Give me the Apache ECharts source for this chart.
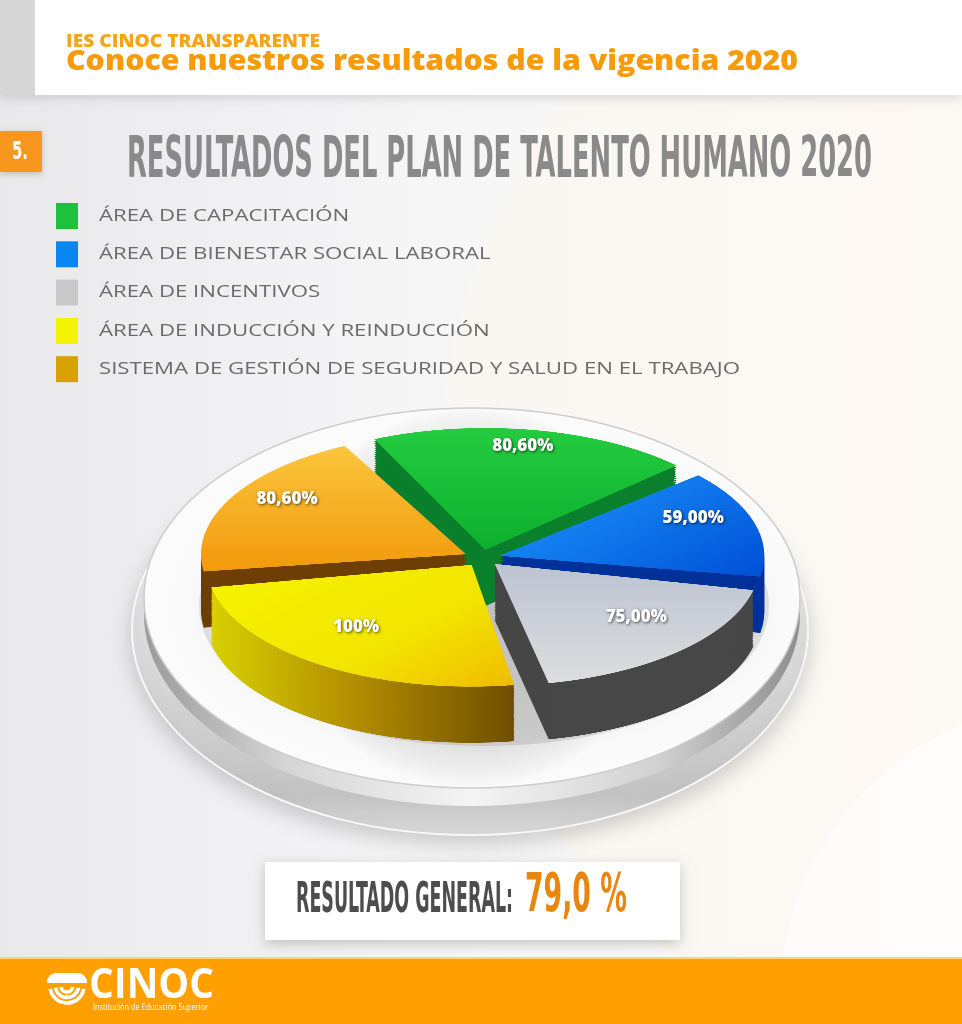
<!DOCTYPE html>
<html><head><meta charset="utf-8">
<script src="https://cdn.jsdelivr.net/npm/echarts@6/dist/echarts.min.js"></script>
<style>
html,body{margin:0;padding:0;width:962px;height:1024px;overflow:hidden;background:#f3f3f4}
#bg{position:absolute;left:0;top:0;width:962px;height:1024px}
#pie{position:absolute;left:0;top:420px;width:962px;height:720px;transform:scaleY(0.46);transform-origin:0 0}
#fg{position:absolute;left:0;top:0;width:962px;height:1024px}
</style></head><body>
<div id="bg"></div><div id="pie"></div><div id="fg"></div>
<script>
// ---------- data ----------
const categories = ['ÁREA DE CAPACITACIÓN','ÁREA DE BIENESTAR SOCIAL LABORAL','ÁREA DE INCENTIVOS','ÁREA DE INDUCCIÓN Y REINDUCCIÓN','SISTEMA DE GESTIÓN DE SEGURIDAD Y SALUD EN EL TRABAJO'];
const values = [80.6, 59, 75, 100, 80.6];
const valueLabels = ['80,60%','59,00%','75,00%','100%','80,60%'];
const legendColors = ['#1ec13c','#0a86f2','#c9c9c9','#f4f400','#d9a100'];
const headerKicker = 'IES CINOC TRANSPARENTE';
const headerTitle = 'Conoce nuestros resultados de la vigencia 2020';
const sectionNumber = '5.';
const chartTitle = 'RESULTADOS DEL PLAN DE TALENTO HUMANO 2020';
const resultLabel = 'RESULTADO GENERAL:';
const resultValue = '79,0 %';
const brandName = 'CINOC';
const brandSub = 'Institución de Educación Superior';

// ---------- styles ----------
const topColors = [
  {type:'linear',x:0,y:0,x2:0,y2:1,colorStops:[{offset:0,color:'#25cc40'},{offset:1,color:'#0cb02e'}]},
  {type:'linear',x:0,y:0,x2:1,y2:1,colorStops:[{offset:0,color:'#1e9bff'},{offset:1,color:'#0050d6'}]},
  {type:'linear',x:0,y:0,x2:0,y2:1,colorStops:[{offset:0,color:'#bcc3d2'},{offset:1,color:'#dedede'}]},
  {type:'linear',x:0,y:0,x2:1,y2:1,colorStops:[{offset:0,color:'#f6f400'},{offset:0.6,color:'#f3e600'},{offset:1,color:'#f0bc00'}]},
  {type:'linear',x:0,y:0,x2:0,y2:1,colorStops:[{offset:0,color:'#fcc63c'},{offset:1,color:'#f29a0c'}]}
];
const sideColors = [
  '#0a7f2c','#00309a','#474747',
  {type:'linear',x:0,y:0,x2:1,y2:0,colorStops:[{offset:0,color:'#d8d000'},{offset:0.5,color:'#b08a00'},{offset:1,color:'#6e4f00'}]},
  '#6e3f05'
];
const CX = 482, CY_DIV = 300, R = 265, S = 0.46, DIV_TOP = 420, DEPTH = 122, LAYERS = 26;
const START = 116, OFFSET = 18, PAD = 2.5;
const condensed = "'Liberation Sans Narrow','DejaVu Sans Condensed','Arial Narrow',sans-serif";
const sans = "'Open Sans','Lato',sans-serif";

const mctx = document.createElement('canvas').getContext('2d');
function fit(text, weight, size, family, target){
  mctx.font = weight + ' ' + size + 'px ' + family;
  return target / mctx.measureText(text).width;
}
function txt(text, x, y, opt){
  const sc = opt.width ? fit(text, opt.weight||'normal', opt.size, opt.family, opt.width) : 1;
  return {type:'text', x:x, y:y, scaleX:sc, z:opt.z||10, style:{
    text:text, x:0, y:0, fill:opt.fill, fontSize:opt.size, fontFamily:opt.family,
    fontWeight:opt.weight||'normal', align:opt.align||'left', verticalAlign:'middle',
    textShadowColor:opt.shadowColor, textShadowBlur:opt.shadowBlur||0,
    textShadowOffsetX:opt.sx||0, textShadowOffsetY:opt.sy||0}};
}

// ---------- background chart ----------
const bgG = [];
bgG.push({type:'rect', shape:{x:0,y:0,width:962,height:1024}, style:{fill:{type:'linear',x:0,y:0,x2:1,y2:0,colorStops:[{offset:0,color:'#e9e9ec'},{offset:0.45,color:'#f6f6f7'},{offset:1,color:'#fdfcfb'}]}}});
bgG.push({type:'circle', shape:{cx:1060,cy:470,r:620}, style:{fill:'rgba(253,246,236,0.55)'}});
bgG.push({type:'circle', shape:{cx:1080,cy:1000,r:300}, style:{fill:'rgba(255,255,255,0.6)'}});
// header
bgG.push({type:'rect', shape:{x:0,y:0,width:962,height:95}, style:{fill:'#ffffff', shadowBlur:10, shadowColor:'rgba(0,0,0,0.13)', shadowOffsetY:3}});
bgG.push({type:'rect', shape:{x:0,y:0,width:35,height:95}, style:{fill:'#d6d6d6'}});
bgG.push(txt(headerKicker, 66, 42, {size:17, weight:800, family:sans, fill:'#f7a418', width:254}));
bgG.push(txt(headerTitle, 66, 62, {size:28, weight:800, family:sans, fill:'#f79b0a', width:732}));
// section number
bgG.push({type:'rect', shape:{x:0,y:131,width:42,height:41}, style:{fill:'#f8961d', shadowBlur:6, shadowColor:'rgba(0,0,0,0.2)', shadowOffsetY:2}});
bgG.push(txt(sectionNumber, 12, 153, {size:24, weight:'bold', family:condensed, fill:'#ffffff', width:16}));
// title
bgG.push(txt(chartTitle, 127, 162, {size:57, weight:'bold', family:condensed, fill:'#8a8a8a', width:745}));
// legend
const legW = Math.min.apply(null, categories.map(c => fit(c,500,17,sans,641) ));
categories.forEach((c,i)=>{
  const yc = 216 + i*38.3;
  bgG.push({type:'rect', shape:{x:56,y:yc-13,width:22,height:26}, style:{fill:legendColors[i]}});
  bgG.push({type:'text', x:99, y:yc, scaleX:legW, style:{text:c, x:0, y:0, fill:'#6b6b6b', fontSize:17, fontWeight:500, fontFamily:sans, verticalAlign:'middle'}});
});
// platform
bgG.push({type:'ellipse', shape:{cx:470,cy:630,rx:338,ry:205}, style:{fill:{type:'linear',x:0,y:0,x2:0,y2:1,colorStops:[{offset:0,color:'#f4f4f4'},{offset:0.6,color:'#d8d8d8'},{offset:0.9,color:'#c2c2c2'},{offset:1,color:'#dadada'}]}, stroke:'#f8f8f8', lineWidth:2, shadowBlur:22, shadowColor:'rgba(0,0,0,0.18)', shadowOffsetY:8}});
bgG.push({type:'ellipse', shape:{cx:472,cy:614,rx:328,ry:192}, style:{fill:{type:'linear',x:0,y:0,x2:1,y2:0,colorStops:[{offset:0,color:'#9a9a9a'},{offset:0.22,color:'#d6d6d6'},{offset:0.5,color:'#f4f4f4'},{offset:0.78,color:'#d2d2d2'},{offset:1,color:'#8e8e8e'}]}}});
bgG.push({type:'ellipse', shape:{cx:472,cy:598,rx:328,ry:190}, style:{fill:{type:'radial',x:0.5,y:0.5,r:0.5,colorStops:[{offset:0,color:'#d9d9d9'},{offset:0.8,color:'#e6e6e6'},{offset:0.95,color:'#f3f3f3'},{offset:1,color:'#fbfbfb'}]}, stroke:'#cdcdcd', lineWidth:1.5}});
bgG.push({type:'ellipse', shape:{cx:484,cy:606,rx:285,ry:140}, style:{fill:'rgba(0,0,0,0.10)', shadowBlur:24, shadowColor:'rgba(0,0,0,0.25)'}});
// result box
bgG.push({type:'rect', shape:{x:265,y:862,width:415,height:78}, style:{fill:'#ffffff', shadowBlur:12, shadowColor:'rgba(0,0,0,0.2)', shadowOffsetY:4}});
bgG.push(txt(resultLabel, 296, 901, {size:42, weight:'bold', family:condensed, fill:'#4d4d4d', width:217}));
bgG.push(txt(resultValue, 525, 897, {size:54, weight:'bold', family:condensed, fill:'#e8860f', width:102}));
// footer
bgG.push({type:'rect', shape:{x:0,y:958,width:962,height:66}, style:{fill:'#ff9f00'}});
bgG.push({type:'rect', shape:{x:0,y:957,width:962,height:2}, style:{fill:'#ffd27a'}});
// logo icon
bgG.push({type:'rect', shape:{x:47,y:973,width:40,height:10,r:[9,9,0,0]}, style:{fill:'#ffffff'}});
[17,11.5,6].forEach(r=>{
  bgG.push({type:'arc', shape:{cx:67,cy:986,r:r,startAngle:0.05*Math.PI,endAngle:0.95*Math.PI,clockwise:true}, style:{stroke:'#ffffff', lineWidth:3.6, fill:null}});
});
bgG.push({type:'sector', shape:{cx:67,cy:999,r:4,r0:0,startAngle:Math.PI,endAngle:2*Math.PI,clockwise:true}, style:{fill:'#ffffff'}});
bgG.push(txt(brandName, 89, 986, {size:42, weight:'bold', family:sans, fill:'#ffffff', width:125}));
bgG.push(txt(brandSub, 93, 1008, {size:8.5, weight:'normal', family:sans, fill:'#ffffff', width:115}));

const bg = echarts.init(document.getElementById('bg'));
bg.setOption({animation:false, graphic:{elements:bgG}});

// ---------- pie chart (squashed for tilt) ----------
const total = values.reduce((a,b)=>a+b,0);
const pieSeries = [];
for (let k=0;k<=LAYERS;k++){
  const isTop = k===LAYERS;
  const off = DEPTH*(1-k/LAYERS);
  pieSeries.push({
    type:'pie', center:[CX, CY_DIV+off], radius:[0,R], startAngle:START, clockwise:true,
    padAngle:PAD, selectedMode:'multiple', selectedOffset:OFFSET, silent:true, z:2+k,
    label:{show:false}, labelLine:{show:false}, emphasis:{disabled:true},
    itemStyle:{borderWidth:0},
    data: categories.map((c,i)=>{
      const col = isTop ? topColors[i] : sideColors[i];
      return {name:c, value:values[i], selected:true, itemStyle:{color:col, borderWidth:0}, select:{itemStyle:{color:col, borderWidth:0}}};
    })
  });
}
const pie = echarts.init(document.getElementById('pie'), null, {devicePixelRatio:2});
pie.setOption({animation:false, backgroundColor:'transparent', series:pieSeries});

// ---------- foreground labels ----------
const fgG = [];
let cum = 0;
const cyScreen = DIV_TOP + CY_DIV*S;
values.forEach((v,i)=>{
  const mid = (START - (cum + v/2)/total*360) * Math.PI/180;
  cum += v;
  const r = R*0.76 + OFFSET;
  const x = CX + r*Math.cos(mid);
  const y = cyScreen - r*S*Math.sin(mid) - 13;
  fgG.push(txt(valueLabels[i], x, y, {size:17, weight:800, family:sans, fill:'#ffffff', align:'center', shadowColor:'rgba(0,0,0,0.65)', shadowBlur:3, sx:1, sy:1}));
});
const fg = echarts.init(document.getElementById('fg'));
fg.setOption({animation:false, backgroundColor:'transparent', graphic:{elements:fgG}});
</script>
</body></html>
